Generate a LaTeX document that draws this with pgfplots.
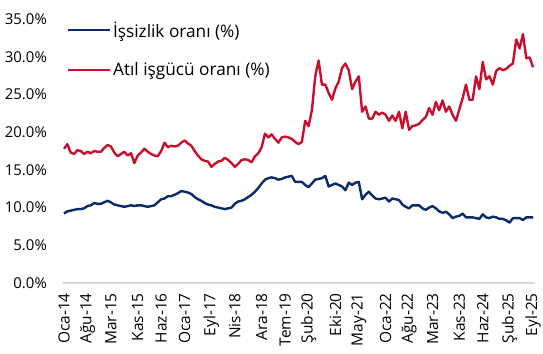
\documentclass[border=0pt]{standalone}
\usepackage{fontspec}
\setmainfont{Open Sans}
\usepackage{pgfplots}
\pgfplotsset{compat=1.18}
\definecolor{navy}{HTML}{0C2A66}
\definecolor{crim}{HTML}{C8102E}
\definecolor{axgray}{HTML}{D9D9D9}
\begin{document}
\begin{tikzpicture}
\begin{axis}[
  scale only axis,
  width=469bp, height=264bp,
  xmin=0, xmax=140, ymin=0, ymax=35,
  axis x line*=bottom, axis y line*=left,
  x axis line style={draw=axgray, line width=1.5bp, shorten <=-1bp, shorten >=-2bp},
  y axis line style={draw=none},
  ytick={0,5,...,35},
  yticklabel={\pgfmathprintnumber[fixed,fixed zerofill,precision=1]{\tick}\%},
  yticklabel style={anchor=east, inner sep=0pt, xshift=-17bp, font=\fontsize{15}{17}\selectfont},
  /pgf/number format/assume math mode=true,
  xtick={0,7,14,22,29,36,44,51,59,66,73,81,88,96,103,110,118,125,133,140},
  xticklabels={Oca-14,Ağu-14,Mar-15,Kas-15,Haz-16,Oca-17,Eyl-17,Nis-18,Ara-18,Tem-19,Şub-20,Eki-20,May-21,Oca-22,Ağu-22,Mar-23,Kas-23,Haz-24,Şub-25,Eyl-25},
  xticklabel style={rotate=90, anchor=east, inner sep=0pt, xshift=2bp, font=\fontsize{15.5}{17}\selectfont},
  xticklabel shift=12bp,
  major tick length=0pt,
  tick style={draw=none},
  clip=false,
  legend style={at={(rel axis cs:0,1)}, anchor=north west, xshift=3bp, yshift=-1bp, draw=none, fill=none,
    font=\fontsize{17.3}{19}\selectfont, row sep=21bp, inner sep=0pt,
    nodes={inner sep=1.5bp}},
  legend cell align=left,
  legend image code/.code={\draw[#1] (0bp,0bp) -- (42bp,0bp);},
]
\addplot[navy, line width=2.4bp, line join=round] coordinates {
(0,9.2)(1,9.5)(2,9.6)(3,9.7)(4,9.8)(5,9.8)(6,9.9)(7,10.2)(8,10.3)(9,10.6)
(10,10.5)(11,10.5)(12,10.7)(13,10.9)(14,10.7)(15,10.4)(16,10.3)(17,10.2)(18,10.1)(19,10.2)
(20,10.3)(21,10.2)(22,10.3)(23,10.3)(24,10.2)(25,10.1)(26,10.2)(27,10.3)(28,10.7)(29,11.1)
(30,11.2)(31,11.5)(32,11.5)(33,11.7)(34,11.9)(35,12.2)(36,12.1)(37,12.0)(38,11.8)(39,11.4)
(40,11.1)(41,10.9)(42,10.6)(43,10.4)(44,10.3)(45,10.1)(46,10.0)(47,9.9)(48,9.8)(49,9.9)
(50,10.0)(51,10.5)(52,10.8)(53,10.9)(54,11.1)(55,11.4)(56,11.7)(57,12.1)(58,12.6)(59,13.2)
(60,13.7)(61,13.9)(62,14.0)(63,13.9)(64,13.7)(65,13.8)(66,14.0)(67,14.1)(68,14.2)(69,13.4)
(70,13.4)(71,13.4)(72,13.0)(73,12.7)(74,13.2)(75,13.7)(76,13.8)(77,13.9)(78,14.2)(79,12.8)
(80,13.0)(81,13.2)(82,13.0)(83,12.8)(84,12.3)(85,13.3)(86,13.0)(87,13.3)(88,13.4)(89,11.1)
(90,11.7)(91,12.1)(92,11.6)(93,11.2)(94,11.1)(95,11.2)(96,11.3)(97,10.8)(98,11.2)(99,11.1)
(100,11.0)(101,10.4)(102,10.1)(103,9.9)(104,10.3)(105,10.3)(106,10.3)(107,9.9)(108,9.7)(109,10.0)
(110,10.2)(111,9.9)(112,9.5)(113,9.3)(114,9.45)(115,9.1)(116,8.6)(117,8.8)(118,8.9)(119,9.2)
(120,8.7)(121,8.7)(122,8.7)(123,8.6)(124,8.5)(125,9.1)(126,8.7)(127,8.6)(128,8.8)(129,8.7)
(130,8.5)(131,8.5)(132,8.3)(133,8.0)(134,8.6)(135,8.6)(136,8.6)(137,8.35)(138,8.7)(139,8.7)
(140,8.7)
};
\addlegendentry{İşsizlik oranı (\%)}
\addplot[crim, line width=2.4bp, line join=round] coordinates {
(0,17.8)(1,18.4)(2,17.3)(3,17.1)(4,17.6)(5,17.5)(6,17.1)(7,17.4)(8,17.2)(9,17.5)
(10,17.4)(11,17.4)(12,17.9)(13,18.3)(14,18.1)(15,17.3)(16,16.8)(17,17.1)(18,17.4)(19,16.9)
(20,17.2)(21,15.9)(22,16.9)(23,17.3)(24,17.8)(25,17.4)(26,17.1)(27,16.9)(28,16.8)(29,17.5)
(30,18.6)(31,18.0)(32,18.2)(33,18.1)(34,18.2)(35,18.6)(36,18.9)(37,18.5)(38,18.2)(39,17.5)
(40,16.9)(41,16.4)(42,16.2)(43,16.1)(44,15.4)(45,15.8)(46,16.1)(47,16.2)(48,16.6)(49,16.3)
(50,15.9)(51,15.4)(52,15.8)(53,16.3)(54,16.4)(55,16.3)(56,16.0)(57,16.8)(58,17.2)(59,18.0)
(60,19.8)(61,19.3)(62,19.7)(63,19.1)(64,18.6)(65,19.3)(66,19.4)(67,19.3)(68,19.1)(69,18.7)
(70,18.4)(71,18.7)(72,21.5)(73,20.8)(74,22.9)(75,27.4)(76,29.5)(77,26.3)(78,26.3)(79,25.2)
(80,24.3)(81,25.8)(82,26.7)(83,28.5)(84,29.1)(85,28.2)(86,25.7)(87,26.7)(88,27.4)(89,22.7)
(90,23.4)(91,21.8)(92,21.8)(93,22.7)(94,22.3)(95,22.6)(96,22.3)(97,21.5)(98,22.2)(99,21.5)
(100,22.7)(101,20.5)(102,22.7)(103,20.3)(104,20.8)(105,20.9)(106,21.1)(107,21.6)(108,22.0)(109,23.2)
(110,22.3)(111,24.0)(112,22.9)(113,24.2)(114,22.7)(115,23.4)(116,22.3)(117,21.5)(118,23.0)(119,24.5)
(120,26.3)(121,24.3)(122,24.3)(123,27.4)(124,25.7)(125,29.3)(126,27.0)(127,27.4)(128,26.3)(129,28.1)
(130,28.5)(131,28.2)(132,28.4)(133,28.8)(134,29.1)(135,32.3)(136,31.1)(137,33.0)(138,29.8)(139,29.9)
(140,28.6)
};
\addlegendentry{Atıl işgücü oranı (\%)}
\end{axis}
\pgfresetboundingbox
\path[use as bounding box] (-64bp,-71bp) rectangle (479bp,283bp);
\end{tikzpicture}
\end{document}
